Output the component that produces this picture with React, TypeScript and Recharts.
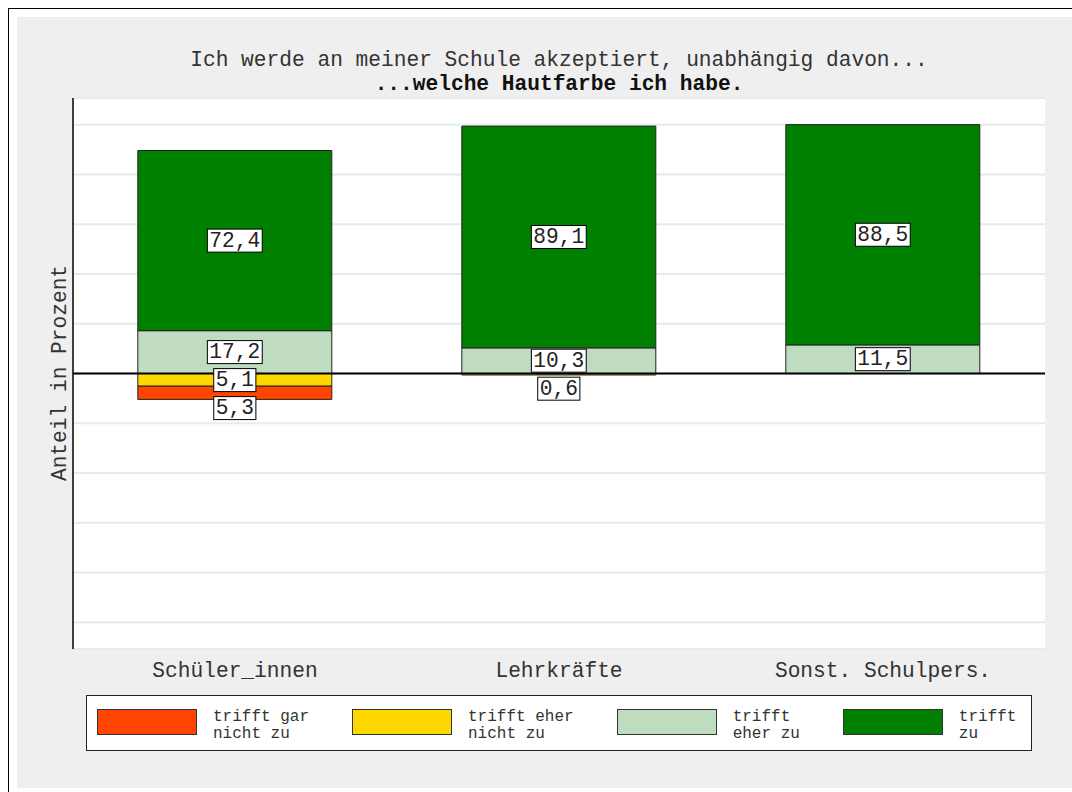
import {
  Bar,
  BarChart,
  CartesianGrid,
  LabelList,
  ReferenceLine,
  XAxis,
  YAxis
} from 'recharts';

const categories = ['Schüler_innen', 'Lehrkräfte', 'Sonst. Schulpers.'];
const garNichtZu = [5.3, 0, 0];
const eherNichtZu = [5.1, 0.6, 0];
const eherZu = [17.2, 10.3, 11.5];
const zu = [72.4, 89.1, 88.5];
const gridTicks = [-100, -80, -60, -40, -20, 0, 20, 40, 60, 80, 100];

const legendItems = [
  { label: ['trifft gar', 'nicht zu'], color: '#FF4500' },
  { label: ['trifft eher', 'nicht zu'], color: '#FFD700' },
  { label: ['trifft', 'eher zu'], color: '#C0DCC0' },
  { label: ['trifft', 'zu'], color: '#008000' },
];

// disagreement goes below zero; with stackOffset="sign" the first negative series sits next to zero
const data = categories.map((name, i) => ({
  name,
  eherNichtZu: -eherNichtZu[i],
  garNichtZu: -garNichtZu[i],
  eherZu: eherZu[i],
  zu: zu[i],
}));

const MONO = "'Liberation Mono', 'Courier New', monospace";
const FS = 21.2;
const BOX_H = 23;
const GAP = 5;
const CHAR_W = FS * 0.6;

const fmt = (v: number) => v.toFixed(1).replace('.', ',');

// label centres for one column; negative labels get pushed down so boxes don't overlap
const labelCentres = (i: number, zeroY: number, ppu: number) => {
  const out: { key: string, v: number, cy: number }[] = [];
  const lgC = zeroY - eherZu[i] * ppu / 2;
  if (eherZu[i] > 0) out.push({ key: 'eherZu', v: eherZu[i], cy: lgC });
  out.push({ key: 'zu', v: zu[i], cy: zeroY - (eherZu[i] + zu[i] / 2) * ppu });
  let prevBottom = eherZu[i] > 0 ? lgC + BOX_H / 2 : zeroY;
  let acc = 0;
  const negs: [string, number[]][] = [['eherNichtZu', eherNichtZu], ['garNichtZu', garNichtZu]];
  for (const [key, arr] of negs) {
    const v = arr[i];
    if (v > 0) {
      const c = zeroY + (acc + v / 2) * ppu;
      const top = Math.max(c - BOX_H / 2, prevBottom + GAP);
      out.push({ key, v, cy: top + BOX_H / 2 });
      prevBottom = top + BOX_H;
    }
    acc += v;
  }
  return out;
};

// drawn from the top series so every box sits above all bars
const ColumnLabels = (props: any) => {
  const { x, y, width, height, index } = props;
  const top = Math.min(y, y + height);
  const h = Math.abs(height);
  const ppu = h / zu[index];
  const zeroY = top + h + eherZu[index] * ppu;
  const cx = x + width / 2;
  return (
    <g>
      {labelCentres(index, zeroY, ppu).map((l) => {
        const text = fmt(l.v);
        const w = text.length * CHAR_W + 4;
        return (
          <g key={l.key}>
            <rect x={cx - w / 2} y={l.cy - BOX_H / 2} width={w} height={BOX_H}
              fill="#fff" stroke="#000" strokeWidth={1} />
            <text x={cx} y={l.cy} textAnchor="middle" dominantBaseline="central"
              fontFamily={MONO} fontSize={FS} fill="#222">{text}</text>
          </g>
        );
      })}
    </g>
  );
};

const App = () => {
  return (
    <div style={{
      position: 'fixed', left: 8, top: 8, width: 1064, height: 784, boxSizing: 'border-box',
      borderLeft: '1px solid #000', borderTop: '1px solid #000', background: '#fff',
      fontFamily: MONO, overflow: 'hidden'
    }}>
      <div style={{ position: 'absolute', left: 8, top: 8, width: 1055, height: 771, background: '#efefef' }} />

      <div style={{
        position: 'absolute', left: 64, top: 39, width: 972, textAlign: 'center',
        fontSize: FS, lineHeight: '24px', whiteSpace: 'pre'
      }}>
        <div style={{ color: '#333' }}>Ich werde an meiner Schule akzeptiert, unabhängig davon...</div>
        <div style={{ fontWeight: 'bold', color: '#111' }}>...welche Hautfarbe ich habe.</div>
      </div>

      <div style={{
        position: 'absolute', left: 51, top: 364, fontSize: FS, color: '#333',
        whiteSpace: 'nowrap', transform: 'translate(-50%, -50%) rotate(-90deg)'
      }}>
        Anteil in Prozent
      </div>

      <div style={{ position: 'absolute', left: 8, top: 8 }}>
        <BarChart
          width={1055}
          height={700}
          data={data}
          stackOffset="sign"
          barCategoryGap="20%"
          margin={{ top: 81, right: 27, bottom: 28, left: 55 }}
        >
          <CartesianGrid vertical={false} fill="#fff" fillOpacity={1} stroke="#e2ecec" strokeWidth={2} />
          <XAxis
            dataKey="name"
            axisLine={false}
            tickLine={false}
            tickSize={0}
            tickMargin={13}
            height={40}
            interval={0}
            tick={{ fontFamily: MONO, fontSize: FS, fill: '#333' }}
          />
          <YAxis
            width={1}
            domain={[-110.7, 110.7]}
            ticks={gridTicks}
            tickFormatter={() => ''}
            tickLine={false}
            stroke="#000"
            axisLine={{ stroke: '#000', strokeWidth: 1.5 }}
          />
          <Bar dataKey="eherNichtZu" stackId="a" fill="#FFD700" stroke="#222" strokeWidth={1} isAnimationActive={false} />
          <Bar dataKey="garNichtZu" stackId="a" fill="#FF4500" stroke="#222" strokeWidth={1} isAnimationActive={false} />
          <Bar dataKey="eherZu" stackId="a" fill="#C0DCC0" stroke="#222" strokeWidth={1} isAnimationActive={false} />
          <Bar dataKey="zu" stackId="a" fill="#008000" stroke="#222" strokeWidth={1} isAnimationActive={false}>
            <LabelList dataKey="zu" content={ColumnLabels} />
          </Bar>
          <ReferenceLine y={0} stroke="#000" strokeWidth={2} />
        </BarChart>
      </div>

      <div style={{
        position: 'absolute', left: 77, top: 686, width: 946, height: 56, boxSizing: 'border-box',
        border: '1px solid #222', background: '#fff', display: 'flex', alignItems: 'flex-start',
        paddingLeft: 10, paddingTop: 13, gap: 43
      }}>
        {legendItems.map((item) => (
          <div key={item.color} style={{ display: 'flex', alignItems: 'flex-start' }}>
            <div style={{
              width: 100, height: 26, boxSizing: 'border-box', background: item.color,
              border: '1px solid #333'
            }} />
            <div style={{ marginLeft: 16, fontSize: 16, lineHeight: '16.5px', color: '#333', whiteSpace: 'pre' }}>
              {item.label.join('\n')}
            </div>
          </div>
        ))}
      </div>
    </div>
  );
};

export default App;
